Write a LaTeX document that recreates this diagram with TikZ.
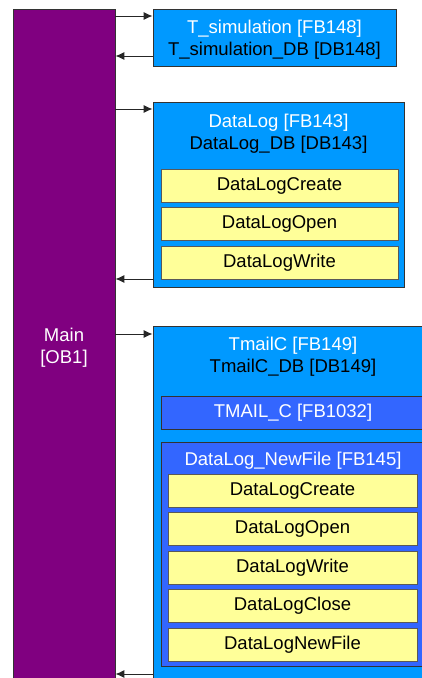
\documentclass[tikz,border=0pt]{standalone}
\usepackage{fontspec}
\setmainfont{Liberation Sans}
\usetikzlibrary{shapes,arrows,arrows.meta,positioning,fit,backgrounds,calc}
\definecolor{obpurple}{RGB}{128,0,128}
\definecolor{fbblue}{RGB}{0,153,255}
\definecolor{subblue}{RGB}{51,102,255}
\definecolor{callyellow}{RGB}{255,255,153}

\begin{document}
\begin{tikzpicture}[x=1pt, y=-1pt,
  box/.style={draw=black!80, line width=0.8pt, rectangle, inner sep=0pt},
  fbbox/.style={box, fill=fbblue},
  subbox/.style={box, fill=subblue},
  callbox/.style={box, draw=black!65, fill=callyellow, font=\fontsize{18.5}{22}\selectfont},
  txt/.style={font=\fontsize{18.5}{22}\selectfont, align=center, inner sep=0pt},
  link/.style={-{Latex[length=9pt,width=8pt]}, line width=1pt, black!85}]
\useasboundingbox (0,0) rectangle (422,678);
\clip (0,0) rectangle (422,678);

% Main organisation block
\node[box, fill=obpurple, minimum width=102, minimum height=700] (main) at (64,359) {};
\node[txt, text=white] (mainlbl) at (64,348) {Main\\{}[OB1]};

% T_simulation
\node[fbbox, minimum width=243, minimum height=57] (tsim) at (274.5,37.5) {};
\node[txt] (tsimlbl) at (274.5,40) {{\color{white}T\_simulation [FB148]}\\T\_simulation\_DB [DB148]};

% DataLog
\node[fbbox, minimum width=251, minimum height=185] (dlog) at (278.5,194.5) {};
\node[txt] (dloglbl) at (278.5,133.5) {{\color{white}DataLog [FB143]}\\DataLog\_DB [DB143]};
\node[callbox, minimum width=237, minimum height=33] (dcreate) at (279.5,185.5) {DataLogCreate};
\node[callbox, minimum width=237, minimum height=33] (dopen) at (279.5,224) {DataLogOpen};
\node[callbox, minimum width=237, minimum height=33] (dwrite) at (279.5,262.5) {DataLogWrite};

% TmailC
\node[fbbox, minimum width=280, minimum height=374] (tmail) at (293,513) {};
\node[txt] (tmaillbl) at (293,357) {{\color{white}TmailC [FB149]}\\TmailC\_DB [DB149]};
\node[subbox, minimum width=264, minimum height=33, txt, text=white] (tmailc) at (293,412.5) {TMAIL\_C [FB1032]};
\node[subbox, minimum width=264, minimum height=224] (newfile) at (293,554) {};
\node[txt, text=white] (newfilelbl) at (293,461) {DataLog\_NewFile [FB145]};
\node[callbox, minimum width=249, minimum height=33] (ncreate) at (292.5,490.5) {DataLogCreate};
\node[callbox, minimum width=249, minimum height=33] (nopen) at (292.5,529) {DataLogOpen};
\node[callbox, minimum width=249, minimum height=33] (nwrite) at (292.5,567.5) {DataLogWrite};
\node[callbox, minimum width=249, minimum height=33] (nclose) at (292.5,606) {DataLogClose};
\node[callbox, minimum width=249, minimum height=33] (nnew) at (292.5,644.5) {DataLogNewFile};

% calls and returns
\draw[link] (main.east |- 0,16) -- (tsim.west |- 0,16);
\draw[link] (tsim.west |- 0,56) -- (main.east |- 0,56);
\draw[link] (main.east |- 0,109) -- (dlog.west |- 0,109);
\draw[link] (dlog.west |- 0,279) -- (main.east |- 0,279);
\draw[link] (main.east |- 0,334) -- (tmail.west |- 0,334);
\draw[link] (tmail.west |- 0,674) -- (main.east |- 0,674);
\end{tikzpicture}
\end{document}
